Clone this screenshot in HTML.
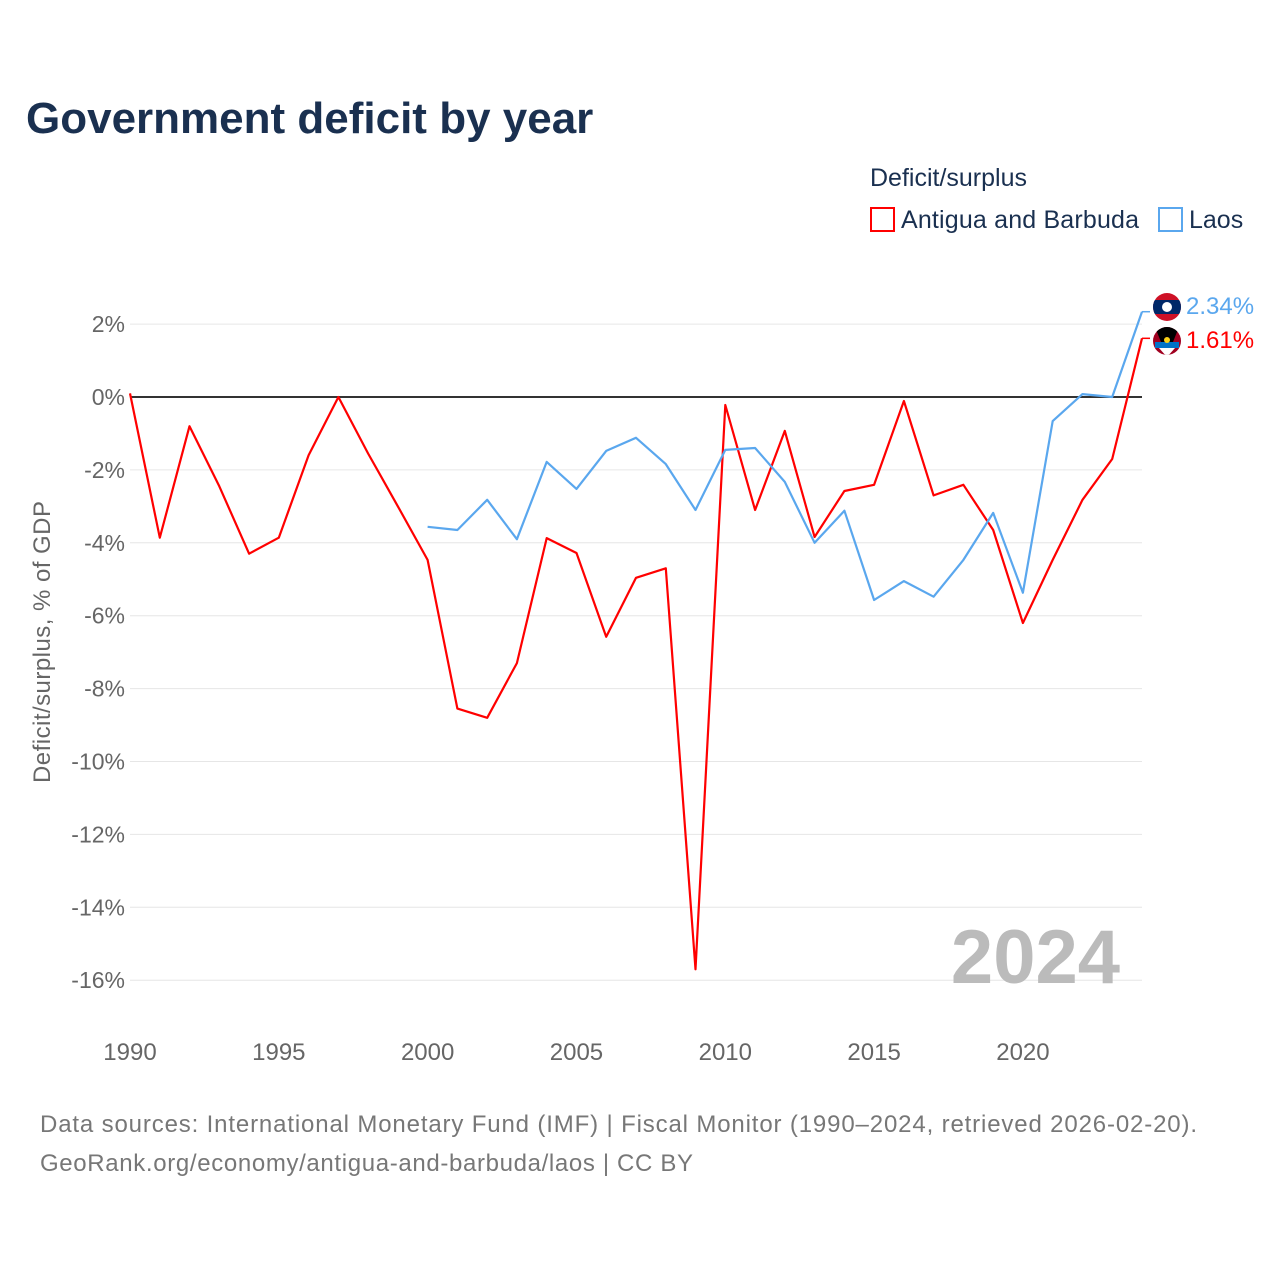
<!DOCTYPE html>
<html><head><meta charset="utf-8">
<style>
body{margin:0;background:#fff;font-family:"Liberation Sans",sans-serif;}
svg text{font-family:"Liberation Sans",sans-serif;}
</style></head>
<body>
<svg width="1280" height="1280" viewBox="0 0 1280 1280" xmlns="http://www.w3.org/2000/svg">
<text x="26" y="133" font-size="44" font-weight="bold" fill="#1a3050">Government deficit by year</text>
<text x="870" y="186" font-size="25" fill="#1a3050">Deficit/surplus</text>
<g><rect x="871" y="208" width="23" height="23" fill="none" stroke="#f00" stroke-width="2"/><text x="901" y="228" font-size="25" fill="#1a3050" textLength="238">Antigua and Barbuda</text></g>
<g><rect x="1159" y="208" width="23" height="23" fill="none" stroke="#5aa7ee" stroke-width="2"/><text x="1189" y="228" font-size="25" fill="#1a3050">Laos</text></g>
<g id="grid"></g>
<g id="yt"></g>
<g id="xt"></g>
<text transform="translate(50,642) rotate(-90)" text-anchor="middle" font-size="24" fill="#666" textLength="282">Deficit/surplus, % of GDP</text>
<text x="1120" y="983" text-anchor="end" font-size="76" font-weight="bold" fill="#bbb">2024</text>
<g id="lines"></g>
<g>
<clipPath id="c1"><circle cx="1167" cy="307" r="14"/></clipPath>
<g clip-path="url(#c1)"><rect x="1150" y="290" width="34" height="34" fill="#ce1126"/><rect x="1150" y="300" width="34" height="14" fill="#002868"/><circle cx="1167" cy="307" r="5" fill="#fff"/></g></g>
<g>
<clipPath id="c2"><circle cx="1167" cy="341" r="14"/></clipPath>
<g clip-path="url(#c2)"><rect x="1150" y="324" width="34" height="34" fill="#a00020"/><polygon points="1155,327 1179,327 1167,357" fill="#000"/><rect x="1155" y="342" width="24" height="6" fill="#0072c6"/><polygon points="1159,348 1175,348 1167,357" fill="#fff"/><circle cx="1167" cy="340" r="3" fill="#fcd116"/></g></g>
<text x="1186" y="314" font-size="24" fill="#5aa7ee">2.34%</text>
<text x="1186" y="348" font-size="24" fill="#f00">1.61%</text>
<text x="40" y="1132" font-size="24" fill="#777" textLength="1157">Data sources: International Monetary Fund (IMF) | Fiscal Monitor (1990–2024, retrieved 2026-02-20).</text>
<text x="40" y="1171" font-size="24" fill="#777" textLength="653">GeoRank.org/economy/antigua-and-barbuda/laos | CC BY</text>
</svg>
<script>
const years=[];for(let y=1990;y<=2024;y++)years.push(y);
const antigua=[0.1,-3.86,-0.8,-2.45,-4.3,-3.86,-1.6,0,-1.55,-3.0,-4.47,-8.55,-8.8,-7.3,-3.87,-4.28,-6.58,-4.96,-4.7,-15.7,-0.22,-3.1,-0.93,-3.84,-2.58,-2.41,-0.11,-2.7,-2.41,-3.65,-6.2,-4.47,-2.82,-1.7,1.61];
const laosYears=[];for(let y=2000;y<=2024;y++)laosYears.push(y);
const laos=[-3.56,-3.65,-2.82,-3.9,-1.78,-2.52,-1.48,-1.12,-1.84,-3.1,-1.45,-1.4,-2.33,-4.0,-3.12,-5.57,-5.05,-5.48,-4.47,-3.18,-5.37,-0.66,0.08,0.0,2.34];
const yTicks=[2,0,-2,-4,-6,-8,-10,-12,-14,-16];
const xTicks=[1990,1995,2000,2005,2010,2015,2020];
const X=y=>130+(y-1990)*(1142-130)/34;
const Y=v=>397-v*36.45;
const NS="http://www.w3.org/2000/svg";
function mk(t,a,p){const e=document.createElementNS(NS,t);for(const k in a)e.setAttribute(k,a[k]);p.appendChild(e);return e;}
const grid=document.getElementById('grid'),yt=document.getElementById('yt'),xt=document.getElementById('xt'),lines=document.getElementById('lines');
yTicks.forEach(v=>{
 const l=mk('line',{x1:130,x2:1142,y1:Y(v),y2:Y(v),stroke:v===0?'#333':'#e6e6e6','stroke-width':v===0?2:1},grid);
 
 
 const t=mk('text',{x:125,y:Y(v)+8,'text-anchor':'end','font-size':23,fill:'#666'},yt);
 t.textContent=v+'%';
 
 
});
xTicks.forEach(v=>{
 const t=mk('text',{x:X(v),y:1060,'text-anchor':'middle','font-size':24,fill:'#666'},xt);
 t.textContent=v;
 
 
});
function line(xs,vs,c,name){
 const d=xs.map((y,i)=>(i?'L':'M')+X(y).toFixed(1)+','+Y(vs[i]).toFixed(1)).join('');
 const p=mk('path',{d:d,fill:'none',stroke:c,'stroke-width':2.2,'stroke-linejoin':'round'},lines);
 
 
}
line(years,antigua,'#f00','antigua-line');
line(laosYears,laos,'#5aa7ee','laos-line');
const la=laos[laos.length-1],aa=antigua[antigua.length-1];
const c1=mk('path',{d:`M${X(2024)},${Y(la)}L1150,${Y(la)}`,stroke:'#5aa7ee','stroke-width':1.5,fill:'none'},lines);


const c2=mk('path',{d:`M${X(2024)},${Y(aa)}L1150,${Y(aa)}`,stroke:'#f00','stroke-width':1.5,fill:'none'},lines);


</script>
</body></html>
